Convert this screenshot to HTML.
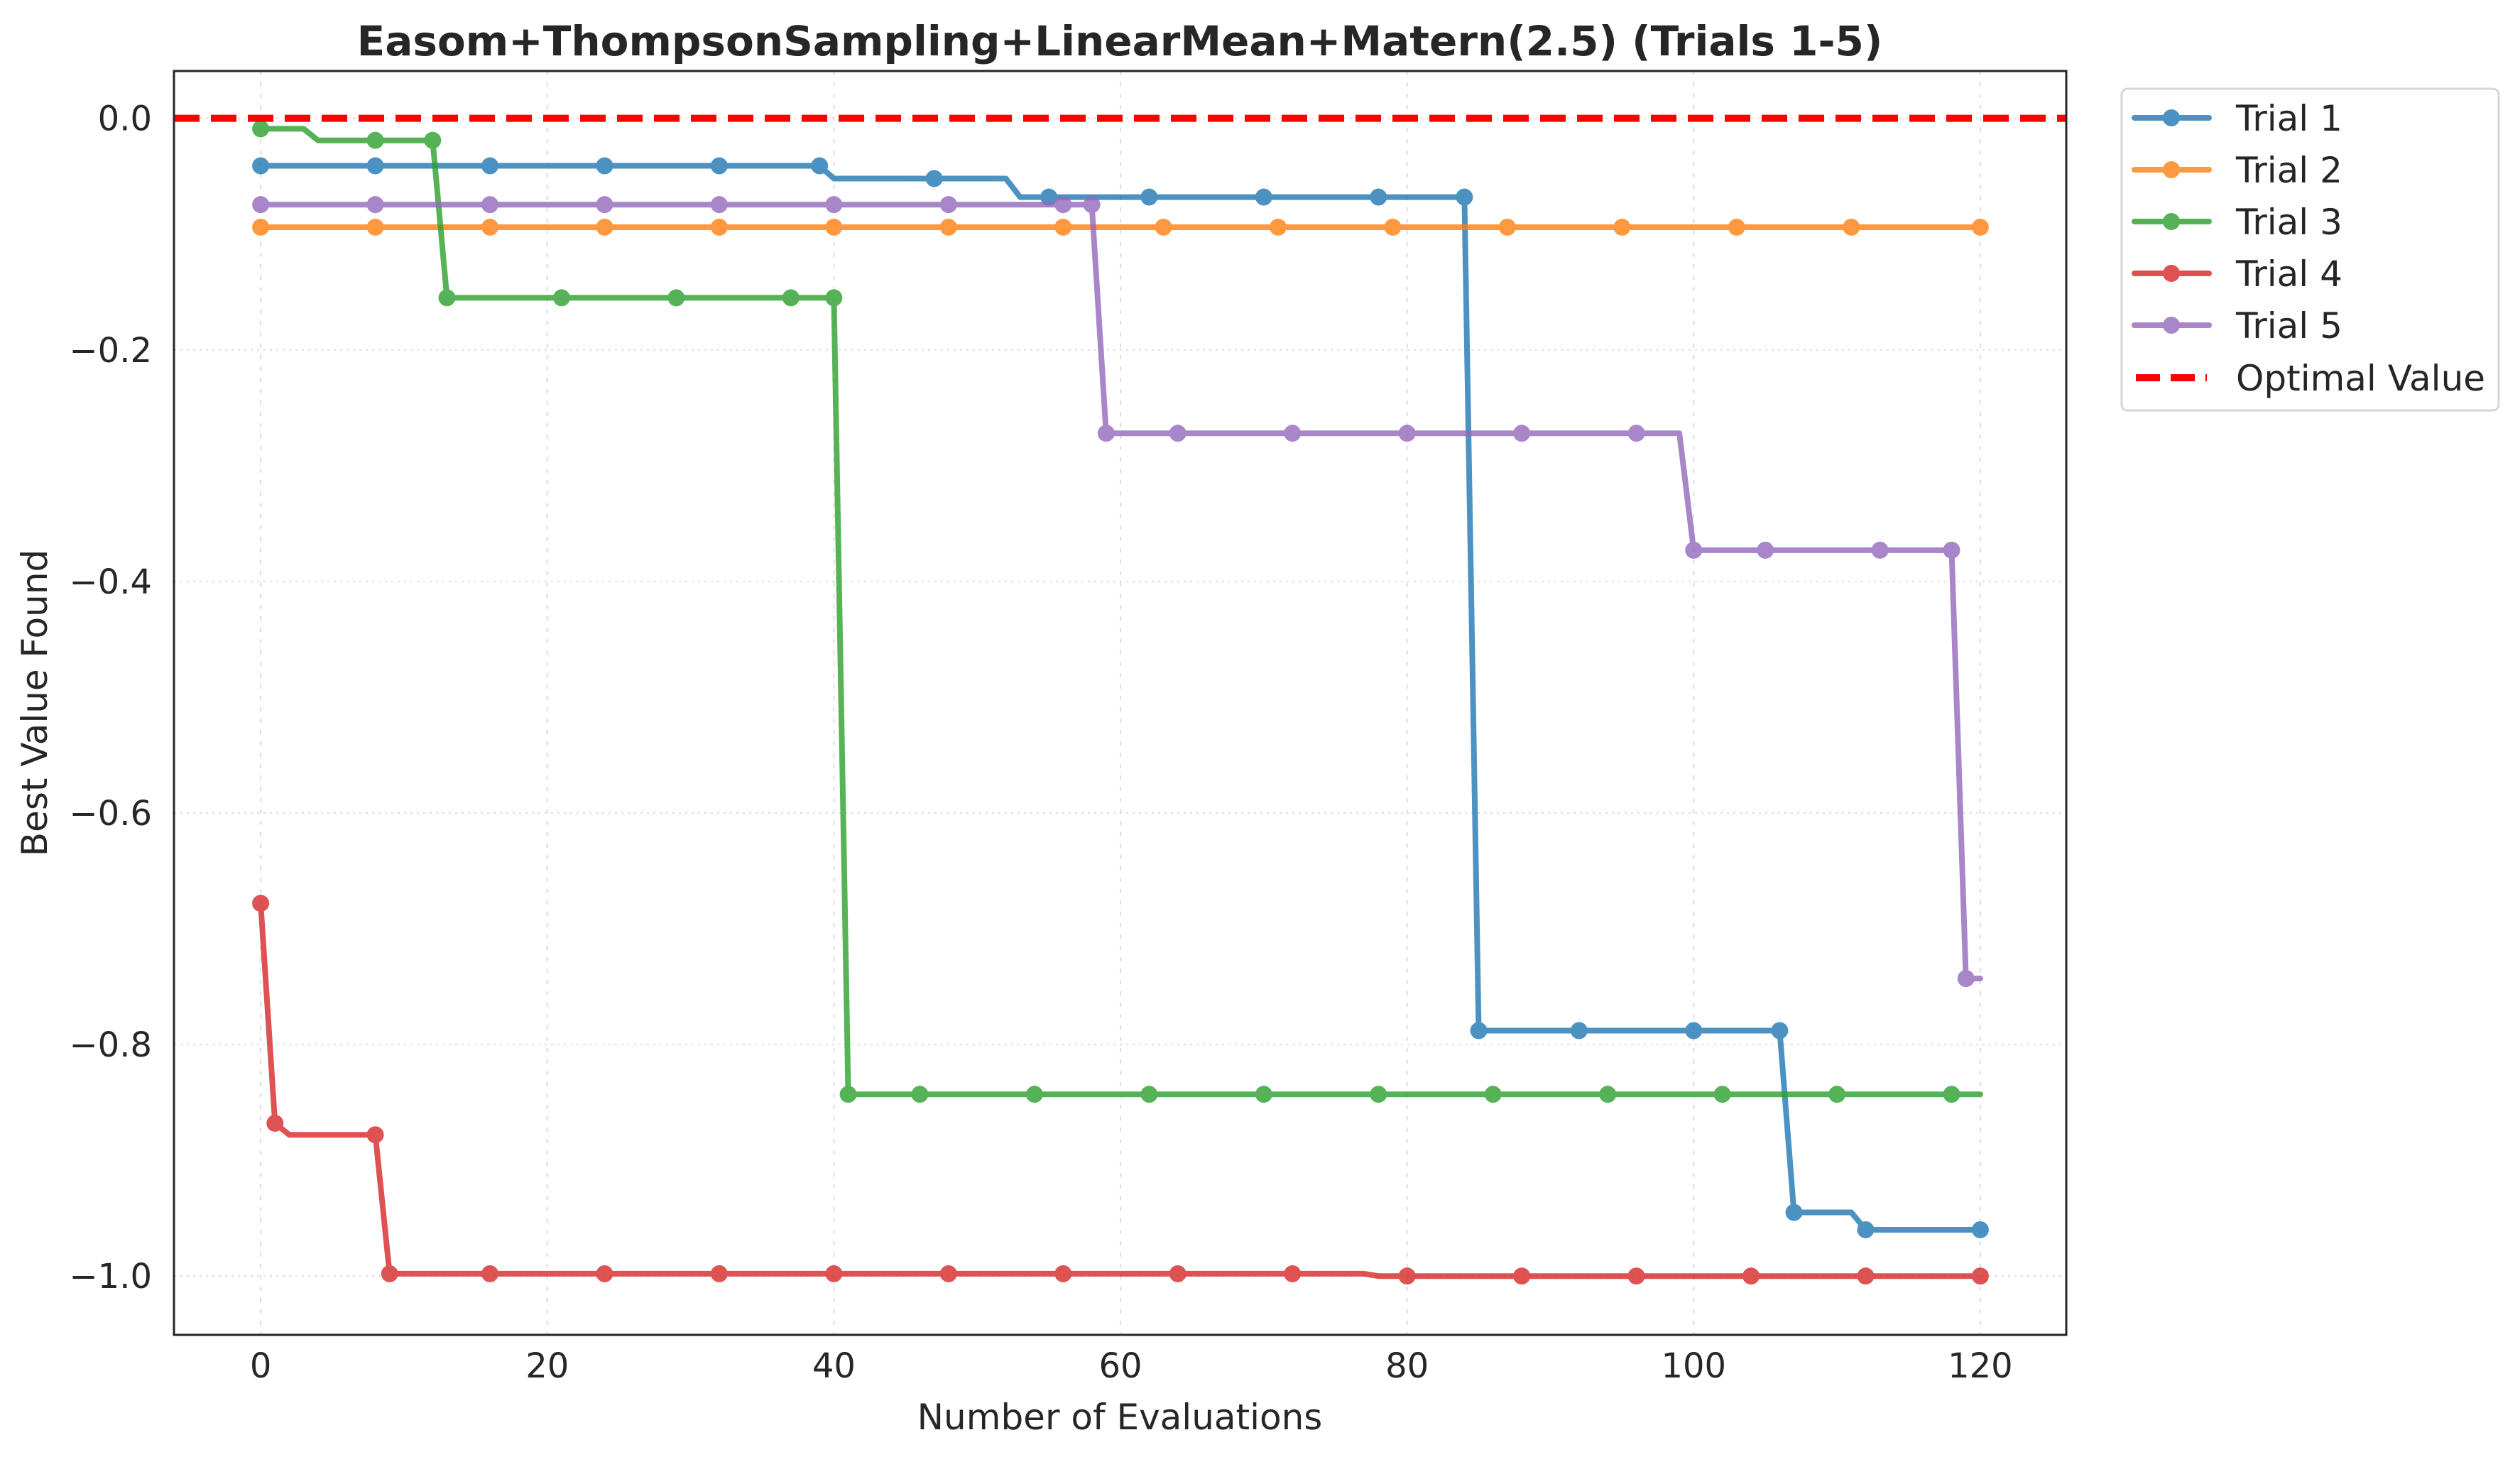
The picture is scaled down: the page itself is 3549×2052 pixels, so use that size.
<!DOCTYPE html>
<html><head><meta charset="utf-8"><style>
html,body{margin:0;padding:0;background:#fff;}
svg{display:block;font-family:"DejaVu Sans","Liberation Sans",sans-serif;}
</style></head><body>
<svg id="chart" width="3549" height="2052" viewBox="0 0 3549 2052" xmlns="http://www.w3.org/2000/svg">
<rect x="0" y="0" width="3549" height="2052" fill="#fff"/>
<g id="grid"></g>
<g id="series"></g>
<rect x="245" y="100" width="2665" height="1780" fill="none" stroke="#262626" stroke-width="3"/>
<g id="ticks"></g>
<text x="1577" y="78" text-anchor="middle" font-size="58" font-weight="bold" fill="#262626">Easom+ThompsonSampling+LinearMean+Matern(2.5) (Trials 1-5)</text>
<text x="1577" y="2013" text-anchor="middle" font-size="50" fill="#262626">Number of Evaluations</text>
<text transform="translate(66,990) rotate(-90)" text-anchor="middle" font-size="50" fill="#262626">Best Value Found</text>
<g>
<rect x="2988" y="125" width="531" height="453" rx="8" fill="#fff" stroke="#d6d6d6" stroke-width="3"/>
<g id="legend-items"></g>
</g>
</svg>
<script>
const xTicks = [0, 20, 40, 60, 80, 100, 120];
const yTicks = [0.0, -0.2, -0.4, -0.6, -0.8, -1.0];
const yTickLabels = ["0.0", "\u22120.2", "\u22120.4", "\u22120.6", "\u22120.8", "\u22121.0"];
const seriesNames = ["Trial 1", "Trial 2", "Trial 3", "Trial 4", "Trial 5"];
const seriesColors = ["#1f77b4", "#ff7f0e", "#2ca02c", "#d62728", "#9467bd"];
const optimalValue = 0.0;
const nEvals = 120;
// step changes: evaluation index where the best value changes, and the new value
const t1ChangeX = [0, 40, 53, 85, 107, 112];
const t1ChangeY = [-0.041, -0.052, -0.068, -0.788, -0.945, -0.960];
const t1Markers = [0, 8, 16, 24, 32, 39, 47, 55, 62, 70, 78, 84, 85, 92, 100, 106, 107, 112, 120];
const t2ChangeX = [0];
const t2ChangeY = [-0.094];
const t2Markers = [0, 8, 16, 24, 32, 40, 48, 56, 63, 71, 79, 87, 95, 103, 111, 120];
const t3ChangeX = [0, 4, 13, 41];
const t3ChangeY = [-0.009, -0.019, -0.155, -0.843];
const t3Markers = [0, 8, 12, 13, 21, 29, 37, 40, 41, 46, 54, 62, 70, 78, 86, 94, 102, 110, 118];
const t4ChangeX = [0, 1, 2, 9, 78];
const t4ChangeY = [-0.678, -0.868, -0.878, -0.998, -1.0];
const t4Markers = [0, 1, 8, 9, 16, 24, 32, 40, 48, 56, 64, 72, 80, 88, 96, 104, 112, 120];
const t5ChangeX = [0, 59, 100, 119];
const t5ChangeY = [-0.0745, -0.272, -0.373, -0.743];
const t5Markers = [0, 8, 16, 24, 32, 40, 48, 56, 58, 59, 64, 72, 80, 88, 96, 100, 105, 113, 118, 119];

const NS = "http://www.w3.org/2000/svg";
const L = 245, R = 2910, T = 100, B = 1880;
const xMin = -6.05, xMax = 126.0, yMin = -1.0508, yMax = 0.0409;
function xs(v){ return L + (v - xMin) / (xMax - xMin) * (R - L); }
function ys(v){ return B - (v - yMin) / (yMax - yMin) * (B - T); }
function mk(tag, attrs, parent){ const e = document.createElementNS(NS, tag); for (const k in attrs) e.setAttribute(k, attrs[k]); parent.appendChild(e); return e; }

const grid = document.getElementById('grid');
const ticks = document.getElementById('ticks');
xTicks.forEach((t) => {
  const g = mk('line', {x1: xs(t), x2: xs(t), y1: T, y2: B, stroke: '#dddddd', 'stroke-width': 2, 'stroke-dasharray': '6,10'}, grid);
  
  
  const tx = mk('text', {x: xs(t), y: 1940, 'text-anchor': 'middle', 'font-size': 48, fill: '#262626'}, ticks);
  tx.textContent = String(t);
  
  
});
yTicks.forEach((t, i) => {
  const g = mk('line', {x1: L, x2: R, y1: ys(t), y2: ys(t), stroke: '#dddddd', 'stroke-width': 2, 'stroke-dasharray': '3,6'}, grid);
  
  
  const tx = mk('text', {x: 214, y: ys(t) + 17, 'text-anchor': 'end', 'font-size': 48, fill: '#262626'}, ticks);
  tx.textContent = yTickLabels[i];
  
  
});

const seriesG = document.getElementById('series');
const allCX = [t1ChangeX, t2ChangeX, t3ChangeX, t4ChangeX, t5ChangeX];
const allCY = [t1ChangeY, t2ChangeY, t3ChangeY, t4ChangeY, t5ChangeY];
const allM = [t1Markers, t2Markers, t3Markers, t4Markers, t5Markers];
function valueAt(cx, cy, i){ let v = cy[0]; for (let k = 0; k < cx.length; k++) if (cx[k] <= i) v = cy[k]; return v; }
for (let s = 0; s < 5; s++) {
  const pts = [];
  for (let i = 0; i <= nEvals; i++) pts.push(xs(i).toFixed(1) + ',' + ys(valueAt(allCX[s], allCY[s], i)).toFixed(1));
  const g = mk('g', {opacity: 0.8}, seriesG);
  
  
  const pl = mk('polyline', {points: pts.join(' '), fill: 'none', stroke: seriesColors[s], 'stroke-width': 8, 'stroke-linejoin': 'round', 'stroke-linecap': 'round'}, g);
  
  
  allM[s].forEach((m) => {
    const c = mk('circle', {cx: xs(m), cy: ys(valueAt(allCX[s], allCY[s], m)), r: 12, fill: seriesColors[s]}, g);
    
    
  });
}
const opt = mk('line', {x1: L, x2: R, y1: ys(optimalValue), y2: ys(optimalValue), stroke: '#ff0000', 'stroke-width': 10, 'stroke-dasharray': '36,16'}, seriesG);



const leg = document.getElementById('legend-items');
const legY = [166, 239, 312, 385, 458, 532];
for (let s = 0; s < 6; s++) {
  const g = mk('g', {}, leg);
  
  
  if (s < 5) {
    const gg = mk('g', {opacity: 0.8}, g);
    mk('line', {x1: 3006, x2: 3111, y1: legY[s], y2: legY[s], stroke: seriesColors[s], 'stroke-width': 8, 'stroke-linecap': 'round'}, gg);
    mk('circle', {cx: 3058, cy: legY[s], r: 12, fill: seriesColors[s]}, gg);
  } else {
    mk('line', {x1: 3008, x2: 3108, y1: legY[s], y2: legY[s], stroke: '#ff0000', 'stroke-width': 10, 'stroke-dasharray': '34,15'}, g);
  }
  const t = mk('text', {x: 3149, y: legY[s] + 18, 'font-size': 50, fill: '#262626'}, g);
  t.textContent = s < 5 ? seriesNames[s] : 'Optimal Value';
}
</script>
</body></html>
